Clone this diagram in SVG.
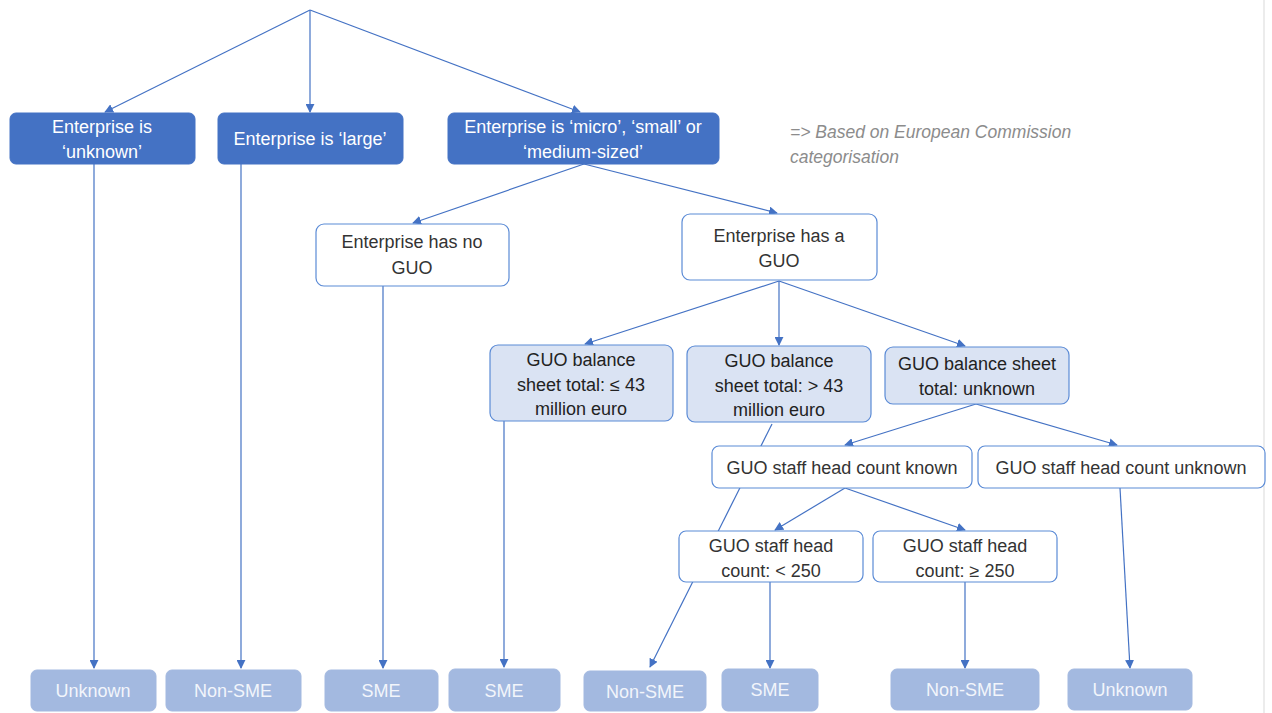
<svg xmlns="http://www.w3.org/2000/svg" width="1272" height="713" viewBox="0 0 1272 713">
<style>
text{font-family:"Liberation Sans",Arial,sans-serif;font-size:18px;text-anchor:middle}
.dark rect{fill:#4472C4;stroke:#4472C4}
.dark text{fill:#ffffff}
.white rect{fill:#ffffff;stroke:#5B8BD6;stroke-width:1.2}
.white text{fill:#333333}
.light rect{fill:#DAE3F3;stroke:#5B8BD6;stroke-width:1.2}
.light text{fill:#222222}
.leaf rect{fill:#A3B9E0;stroke:#A3B9E0}
.leaf text{fill:#F2F5FB}
.conn line{stroke:#4472C4;stroke-width:1.2;fill:none}
.arr{marker-end:url(#ah)}
.note{font-style:italic;fill:#8C8C8C;text-anchor:start;font-size:17.5px}
</style>
<defs>
<marker id="ah" viewBox="0 0 10 10" refX="9" refY="5" markerWidth="9" markerHeight="9" markerUnits="userSpaceOnUse" orient="auto">
<path d="M0,0 L10,5 L0,10 z" fill="#4472C4"/>
</marker>
</defs>
<rect width="1272" height="713" fill="#ffffff"/>
<line x1="1264" y1="0" x2="1264" y2="713" stroke="#D9D9D9" stroke-width="1"/>
<g id="connectors" class="conn">
<line x1="772" y1="424" x2="650" y2="667" class="arr"/>
<line x1="310" y1="10" x2="105" y2="112" class="arr"/>
<line x1="310" y1="10" x2="310" y2="112" class="arr"/>
<line x1="310" y1="10" x2="580" y2="112" class="arr"/>
<line x1="584" y1="164" x2="413" y2="223" class="arr"/>
<line x1="584" y1="164" x2="777" y2="213" class="arr"/>
<line x1="779" y1="281" x2="585" y2="344" class="arr"/>
<line x1="779" y1="281" x2="779" y2="345" class="arr"/>
<line x1="779" y1="281" x2="965" y2="346" class="arr"/>
<line x1="976" y1="404" x2="845" y2="445" class="arr"/>
<line x1="976" y1="404" x2="1117" y2="445" class="arr"/>
<line x1="845" y1="488" x2="775" y2="530" class="arr"/>
<line x1="845" y1="488" x2="965" y2="530" class="arr"/>
<line x1="94" y1="164" x2="94" y2="668" class="arr"/>
<line x1="241" y1="164" x2="241" y2="668" class="arr"/>
<line x1="383" y1="286" x2="383" y2="668" class="arr"/>
<line x1="504" y1="421" x2="504" y2="667" class="arr"/>
<line x1="770" y1="582" x2="770" y2="668" class="arr"/>
<line x1="965" y1="582" x2="965" y2="668" class="arr"/>
<line x1="1120" y1="488" x2="1130" y2="668" class="arr"/>
</g>
<g id="n-unknown" class="dark"><rect x="10" y="113" width="185" height="51" rx="6"/><text x="102" y="133">Enterprise is</text><text x="102" y="158">‘unknown’</text></g>
<g id="n-large" class="dark"><rect x="218" y="113" width="185" height="51" rx="6"/><text x="310" y="145">Enterprise is ‘large’</text></g>
<g id="n-sme" class="dark"><rect x="448" y="113" width="271" height="51" rx="6"/><text x="583" y="133">Enterprise is ‘micro’, ‘small’ or</text><text x="583" y="158">‘medium-sized’</text></g>
<text class="note" x="790" y="138">=&gt; Based on European Commission</text>
<text class="note" x="790" y="163">categorisation</text>
<g id="n-noguo" class="white"><rect x="316" y="224" width="193" height="62" rx="8"/><text x="412" y="248">Enterprise has no</text><text x="412" y="274">GUO</text></g>
<g id="n-guo" class="white"><rect x="682" y="214" width="195" height="66" rx="8"/><text x="779" y="242">Enterprise has a</text><text x="779" y="267">GUO</text></g>
<g id="n-bal1" class="light"><rect x="490" y="345" width="183" height="76" rx="8"/><text x="581" y="366">GUO balance</text><text x="581" y="391">sheet total: ≤ 43</text><text x="581" y="415">million euro</text></g>
<g id="n-bal2" class="light"><rect x="687" y="346" width="184" height="76" rx="8"/><text x="779" y="367">GUO balance</text><text x="779" y="392">sheet total: &gt; 43</text><text x="779" y="416">million euro</text></g>
<g id="n-bal3" class="light"><rect x="885" y="347" width="184" height="57" rx="8"/><text x="977" y="370">GUO balance sheet</text><text x="977" y="395">total: unknown</text></g>
<g id="n-hcknown" class="white"><rect x="712" y="446" width="260" height="42" rx="7"/><text x="842" y="474">GUO staff head count known</text></g>
<g id="n-hcunknown" class="white"><rect x="978" y="446" width="287" height="42" rx="7"/><text x="1121" y="474">GUO staff head count unknown</text></g>
<g id="n-lt250" class="white"><rect x="679" y="531" width="184" height="51" rx="7"/><text x="771" y="552">GUO staff head</text><text x="771" y="577">count: &lt; 250</text></g>
<g id="n-ge250" class="white"><rect x="873" y="531" width="184" height="51" rx="7"/><text x="965" y="552">GUO staff head</text><text x="965" y="577">count: ≥ 250</text></g>
<g id="leaf1" class="leaf"><rect x="31" y="670" width="125" height="41" rx="6"/><text x="93" y="697">Unknown</text></g>
<g id="leaf2" class="leaf"><rect x="166" y="670" width="135" height="41" rx="6"/><text x="233" y="697">Non-SME</text></g>
<g id="leaf3" class="leaf"><rect x="325" y="670" width="113" height="41" rx="6"/><text x="381" y="697">SME</text></g>
<g id="leaf4" class="leaf"><rect x="449" y="669" width="111" height="42" rx="6"/><text x="504" y="697">SME</text></g>
<g id="leaf5" class="leaf"><rect x="584" y="671" width="122" height="40" rx="6"/><text x="645" y="698">Non-SME</text></g>
<g id="leaf6" class="leaf"><rect x="722" y="669" width="96" height="42" rx="6"/><text x="770" y="696">SME</text></g>
<g id="leaf7" class="leaf"><rect x="891" y="669" width="148" height="41" rx="6"/><text x="965" y="696">Non-SME</text></g>
<g id="leaf8" class="leaf"><rect x="1068" y="669" width="124" height="41" rx="6"/><text x="1130" y="696">Unknown</text></g>
</svg>
